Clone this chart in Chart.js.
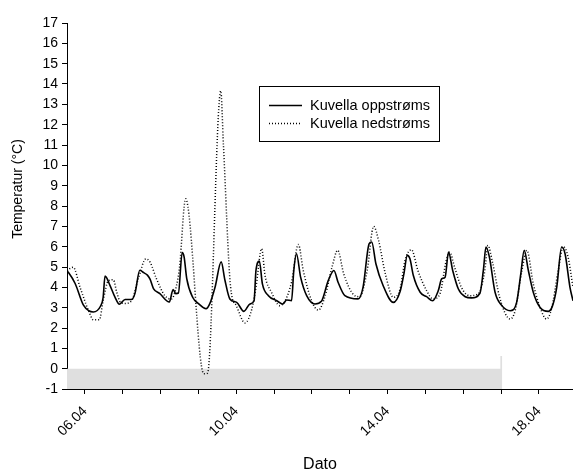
<!DOCTYPE html>
<html>
<head>
<meta charset="utf-8">
<script src="https://cdn.jsdelivr.net/npm/chart.js@4/dist/chart.umd.min.js"></script>
<style>
  html, body { margin: 0; padding: 0; background: #fff; }
  #wrap { width: 573px; height: 473px; position: relative; }
</style>
</head>
<body>
<div id="wrap"><canvas id="c" width="573" height="473"></canvas></div>
<script>
// ---- data (x = day of April, fractional) ----
const seriesNames = ['Kuvella oppstrøms', 'Kuvella nedstrøms'];
const xTitle = 'Dato';
const yTitle = 'Temperatur (°C)';

const upTimes = [5.53,5.56,5.74,5.96,6.1,6.22,6.41,6.48,6.53,6.66,6.79,6.91,7.06,7.23,7.32,7.45,7.55,7.65,7.72,7.81,7.98,8.23,8.33,8.4,8.47,8.57,8.62,8.69,8.85,9.0,9.2,9.3,9.44,9.6,9.7,9.83,10.01,10.2,10.36,10.47,10.52,10.61,10.69,10.85,11.07,11.23,11.33,11.46,11.52,11.59,11.7,11.86,12.08,12.25,12.43,12.58,12.69,12.87,13.22,13.35,13.51,13.58,13.69,13.88,14.15,14.33,14.43,14.52,14.59,14.68,14.86,15.03,15.19,15.34,15.43,15.52,15.61,15.72,15.87,16.05,16.22,16.44,16.53,16.6,16.69,16.84,17.02,17.24,17.41,17.52,17.61,17.72,17.85,18.03,18.25,18.36,18.47,18.6,18.69,18.82,18.9];
const upValues = [4.8,4.74,4.19,3.12,2.85,2.79,3.07,3.5,4.55,4.1,3.53,3.17,3.4,3.4,3.69,4.84,4.72,4.6,4.4,3.94,3.69,3.28,3.89,3.69,3.72,5.71,5.5,4.43,3.5,3.2,2.95,3.2,4.02,5.25,4.35,3.43,3.26,2.82,3.18,3.34,4.83,5.29,4.17,3.59,3.34,3.18,3.38,3.34,4.83,5.65,4.5,3.59,3.18,3.31,4.33,4.83,4.25,3.59,3.43,4.0,6.14,6.23,5.16,4.09,3.26,3.8,4.66,5.57,5.4,4.58,3.76,3.54,3.34,3.84,4.42,4.5,5.73,4.83,3.92,3.54,3.48,3.71,4.83,5.98,5.49,3.76,3.1,2.85,3.26,4.66,5.82,4.83,3.76,3.01,2.82,3.1,4.0,5.98,5.65,4.0,3.34];

const downTimes = [5.53,5.56,5.69,5.87,6.13,6.22,6.38,6.48,6.62,6.75,6.84,6.94,7.06,7.23,7.41,7.61,7.72,7.89,8.11,8.29,8.42,8.5,8.66,9.14,9.24,9.59,9.66,9.85,10.0,10.23,10.41,10.52,10.67,10.76,10.93,11.15,11.29,11.46,11.64,11.77,11.99,12.17,12.35,12.53,12.68,12.84,13.1,13.26,13.46,13.63,13.76,13.94,14.15,14.33,14.46,14.63,14.8,15.03,15.2,15.38,15.55,15.64,15.77,15.95,16.17,16.39,16.57,16.65,16.78,16.96,17.24,17.37,17.55,17.68,17.85,18.03,18.2,18.33,18.51,18.64,18.77,18.9];
const downValues = [4.8,4.86,4.99,4.0,2.69,2.4,2.4,3.34,4.33,4.37,3.76,3.26,3.21,3.34,4.42,5.4,5.24,4.42,3.59,3.43,4.09,5.0,8.36,-0.25,-0.22,13.66,11.0,4.0,3.1,2.25,2.93,4.0,5.9,4.58,3.76,3.1,3.34,4.25,6.11,4.83,3.34,2.88,3.59,4.99,5.82,4.66,3.64,3.54,4.83,7.0,6.31,4.66,3.51,3.92,5.32,5.85,4.83,3.84,3.43,3.67,5.32,5.73,4.99,4.0,3.59,3.67,4.83,6.06,5.16,3.51,2.44,2.85,4.83,5.82,4.17,3.01,2.44,2.93,4.83,6.01,5.49,4.0];

// grey band (baseline marker) along the bottom
const bandTimes = [5.4, 16.98, 16.98, 17.03, 17.03];
const bandValues = [0, 0, 0.62, 0.62, -1];

// axis ticks
const xTickDays = [6,7,8,9,10,11,12,13,14,15,16,17,18];
const xTickLabels = {6:'06.04', 10:'10.04', 14:'14.04', 18:'18.04'};
const yMin = -1, yMax = 17;
const xMin = 5.525, xMax = 18.9;

const toPts = (xs, ys) => xs.map((x, i) => ({x: x, y: ys[i]}));

Chart.defaults.font.family = '"Liberation Sans", Arial, sans-serif';
Chart.defaults.color = '#000';

const legendPlugin = {
  id: 'boxLegend',
  afterDraw(chart) {
    const ctx = chart.ctx;
    const ds = chart.data.datasets;
    ctx.save();
    ctx.fillStyle = '#fff';
    ctx.fillRect(259.5, 86.5, 180, 55);
    ctx.strokeStyle = '#000';
    ctx.lineWidth = 1;
    ctx.strokeRect(259.5, 86.5, 180, 55);
    const rows = [105, 123];
    for (let i = 0; i < 2; i++) {
      ctx.beginPath();
      ctx.setLineDash(ds[i].borderDash || []);
      ctx.lineWidth = ds[i].borderWidth;
      ctx.moveTo(269, rows[i] + 0.5);
      ctx.lineTo(302, rows[i] + 0.5);
      ctx.stroke();
      ctx.setLineDash([]);
      ctx.fillStyle = '#000';
      ctx.font = '14.5px "Liberation Sans", Arial, sans-serif';
      ctx.textBaseline = 'middle';
      ctx.textAlign = 'left';
      ctx.fillText(ds[i].label, 310, rows[i] + 1);
    }
    // y axis title
    ctx.translate(18, 189);
    ctx.rotate(-Math.PI / 2);
    ctx.textAlign = 'center';
    ctx.textBaseline = 'middle';
    ctx.font = '14px "Liberation Sans", Arial, sans-serif';
    ctx.fillText(yTitle, 0, 0);
    ctx.restore();
  }
};

new Chart(document.getElementById('c'), {
  type: 'line',
  data: {
    datasets: [
      {
        label: seriesNames[0],
        data: toPts(upTimes, upValues),
        borderColor: '#000',
        borderWidth: 1.6,
        pointRadius: 0,
        cubicInterpolationMode: 'monotone',
        fill: false,
        order: 1
      },
      {
        label: seriesNames[1],
        data: toPts(downTimes, downValues),
        borderColor: '#000',
        borderWidth: 1.5,
        borderDash: [1, 2],
        pointRadius: 0,
        cubicInterpolationMode: 'monotone',
        fill: false,
        order: 2
      },
      {
        label: 'band',
        data: toPts(bandTimes, bandValues),
        borderWidth: 0,
        borderColor: 'rgba(0,0,0,0)',
        backgroundColor: '#dfdfdf',
        pointRadius: 0,
        tension: 0,
        fill: 'start',
        order: 10
      }
    ]
  },
  options: {
    responsive: false,
    animation: false,
    devicePixelRatio: 1,
    layout: { padding: { top: 23, right: 0, left: 0, bottom: 0 } },
    plugins: {
      legend: { display: false },
      tooltip: { enabled: false }
    },
    scales: {
      x: {
        type: 'linear',
        min: xMin,
        max: xMax,
        afterBuildTicks(scale) { scale.ticks = xTickDays.map(v => ({value: v})); },
        afterFit(scale) { scale.height = 84; },
        ticks: {
          autoSkip: false,
          maxRotation: 45,
          minRotation: 45,
          padding: 9,
          font: { size: 14 },
          color: '#000',
          callback: (v) => xTickLabels[v] || ''
        },
        grid: { drawOnChartArea: false, drawTicks: true, tickLength: 5, color: '#000' },
        border: { display: true, color: '#000', width: 1 },
        title: { display: true, text: xTitle, font: { size: 16, lineHeight: 1 }, padding: { top: 0, bottom: 0 }, color: '#000' }
      },
      y: {
        min: yMin,
        max: yMax,
        afterFit(scale) { scale.width = 67; },
        ticks: { stepSize: 1, font: { size: 14 }, color: '#000', padding: 4 },
        grid: { drawOnChartArea: false, drawTicks: true, tickLength: 5, color: '#000' },
        border: { display: true, color: '#000', width: 1 }
      }
    }
  },
  plugins: [legendPlugin]
});
</script>
</body>
</html>
